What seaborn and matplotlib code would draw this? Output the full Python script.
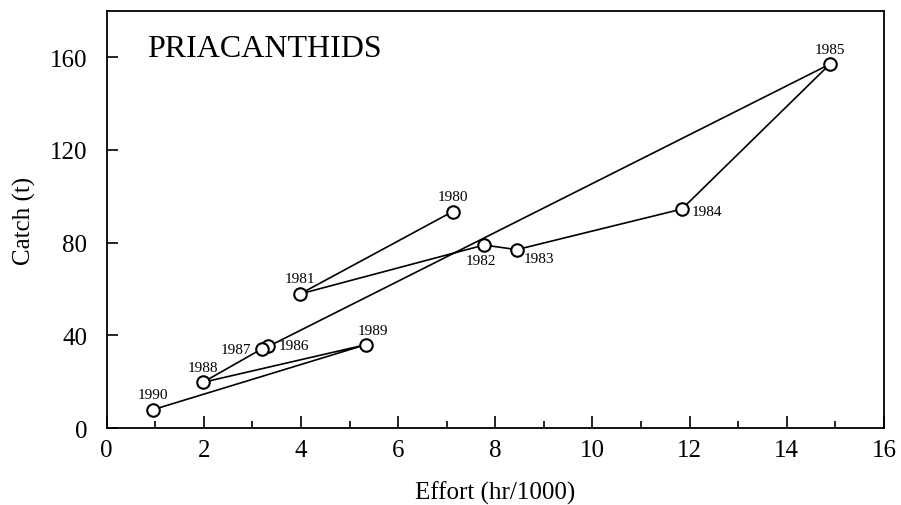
import matplotlib
matplotlib.use("Agg")
import matplotlib.pyplot as plt
import seaborn as sns
import pandas as pd
from matplotlib.ticker import MultipleLocator

# Annual effort and catch, in chronological order
years = [1980, 1981, 1982, 1983, 1984, 1985, 1986, 1987, 1988, 1989, 1990]
effort = [7.12, 3.98, 7.77, 8.44, 11.84, 14.89, 3.33, 3.19, 1.98, 5.33, 0.95]
catch = [93.4, 57.9, 79.0, 77.0, 94.5, 157.0, 35.3, 34.2, 19.8, 36.0, 8.0]

# Label placement per year: (dx, dy) in pixels and horizontal alignment
label_offsets = {
    1980: (0, 15, "center"),
    1981: (0, 15, "center"),
    1982: (-3, -15, "center"),
    1983: (7, -9, "left"),
    1984: (10, -2, "left"),
    1985: (0, 15, "center"),
    1986: (10, 1, "left"),
    1987: (-10, -1, "right"),
    1988: (0, 15, "center"),
    1989: (7, 14, "center"),
    1990: (0, 15, "center"),
}

df = pd.DataFrame({"year": years, "effort": effort, "catch": catch})

sns.set_style("white")
plt.rcParams["font.family"] = ["Liberation Serif", "DejaVu Serif"]
plt.rcParams["text.color"] = "black"
plt.rcParams["axes.labelcolor"] = "black"
plt.rcParams["xtick.color"] = "black"
plt.rcParams["ytick.color"] = "black"

fig = plt.figure(figsize=(9.01, 5.06), dpi=100)
ax = fig.add_axes([0.1184, 0.1516, 0.8627, 0.8253])

sns.lineplot(
    data=df, x="effort", y="catch", sort=False, estimator=None,
    color="black", linewidth=1.2, marker="o", markersize=9,
    markerfacecolor="white", markeredgecolor="black", markeredgewidth=1.5,
    ax=ax,
)

for yr, x, y in zip(years, effort, catch):
    dx, dy, ha = label_offsets[yr]
    ax.annotate(str(yr), (x, y), xytext=(dx, dy), textcoords="offset pixels",
                ha=ha, va="center", fontsize=11, color="black")

ax.text(0.052, 0.91, "PRIACANTHIDS", transform=ax.transAxes,
        fontsize=23, ha="left", va="center", color="black")

ax.set_xlim(0, 16)
ax.set_ylim(0, 180)
ax.xaxis.set_major_locator(MultipleLocator(2))
ax.xaxis.set_minor_locator(MultipleLocator(1))
ax.set_yticks([0, 40, 80, 120, 160])

ax.tick_params(axis="x", which="major", direction="in", length=9, width=1.2,
               labelsize=18, pad=8, bottom=True, top=False)
ax.tick_params(axis="x", which="minor", direction="in", length=5, width=1.2,
               bottom=True, top=False)
ax.tick_params(axis="y", which="major", direction="in", length=8, width=1.2,
               labelsize=18, pad=14, left=True, right=False)

for s in ax.spines.values():
    s.set_linewidth(1.3)
    s.set_color("black")

ax.set_xlabel("Effort (hr/1000)", fontsize=18, labelpad=14)
ax.set_ylabel("Catch (t)", fontsize=18, labelpad=10)

fig.savefig("out.png", dpi=100)
